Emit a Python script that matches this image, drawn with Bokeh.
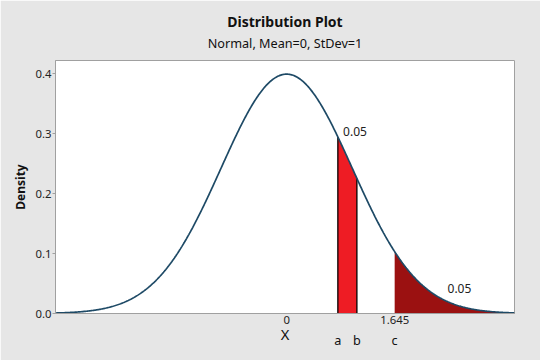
import numpy as np
from bokeh.plotting import figure
from bokeh.models import Title, Label, FixedTicker, ColumnDataSource, LinearAxis
from bokeh.embed import file_html
from bokeh.resources import INLINE

# Distribution stated in the chart subtitle
mean = 0.0
stdev = 1.0
# Marked x positions
a_val = 0.78
b_val = 1.07
c_val = 1.645
region_labels = ["a", "b", "c"]
region_x = [a_val, b_val, c_val]
area_texts = ["0.05", "0.05"]
area_x = [0.86, 2.45]
area_y = [0.303, 0.041]
y_ticks = [0.0, 0.1, 0.2, 0.3, 0.4]
x_ticks = [0.0, 1.645]


def pdf(x):
    return np.exp(-0.5 * ((x - mean) / stdev) ** 2) / (stdev * np.sqrt(2 * np.pi))


FONT = "Noto Sans"
x_lo, x_hi = -3.52, 3.47

p = figure(width=540, height=360, output_backend="svg", toolbar_location=None,
           x_range=(x_lo, x_hi), y_range=(0, 0.4217),
           min_border_left=55, min_border_right=26, min_border_top=60, min_border_bottom=47,
           background_fill_color="white", border_fill_color="#e6e6e6",
           outline_line_color="#a0a0a0")
p.grid.visible = False

xs = np.linspace(x_lo, x_hi, 600)
src = ColumnDataSource(dict(x=xs, y=pdf(xs)))

xab = np.linspace(a_val, b_val, 100)
p.varea(x=xab, y1=np.zeros_like(xab), y2=pdf(xab), fill_color="#ee1c24")
xt = np.linspace(c_val, x_hi, 200)
p.varea(x=xt, y1=np.zeros_like(xt), y2=pdf(xt), fill_color="#9b1111")
p.segment(x0=[a_val, b_val], y0=[0, 0], x1=[a_val, b_val], y1=[pdf(a_val), pdf(b_val)],
          line_color="black", line_width=1.3)
p.line("x", "y", source=src, line_color="#1e4a66", line_width=1.7)

for t, xx, yy in zip(area_texts, area_x, area_y):
    p.add_layout(Label(x=xx, y=yy, text=t, text_font=FONT, text_font_size="9pt",
                       text_color="#222222", text_baseline="middle", text_align="left"))

# axes
p.yaxis.ticker = FixedTicker(ticks=y_ticks)
p.yaxis.major_label_overrides = {v: f"{v:.1f}" for v in y_ticks}
p.yaxis.axis_label = "Density"
p.yaxis.axis_label_text_font = FONT
p.yaxis.axis_label_text_font_style = "bold"
p.yaxis.axis_label_text_font_size = "9pt"
p.yaxis.axis_label_standoff = 4
p.yaxis.minor_tick_line_color = None
p.yaxis.major_tick_out = 3
p.yaxis.major_tick_in = 0
p.yaxis.major_label_standoff = 1

p.xaxis.ticker = FixedTicker(ticks=x_ticks)
p.xaxis.major_label_overrides = {0.0: "0", 1.645: "1.645"}
p.xaxis.minor_tick_line_color = None
p.xaxis.major_tick_out = 0
p.xaxis.major_tick_in = 0
p.xaxis.major_label_standoff = 2
p.xaxis.axis_label = "X"
p.xaxis.axis_label_text_font = FONT
p.xaxis.axis_label_text_font_style = "normal"
p.xaxis.axis_label_text_font_size = "11pt"
p.xaxis.axis_label_standoff = -3

for ax in (p.xaxis, p.yaxis):
    ax.axis_line_color = "#a0a0a0"
    ax.major_tick_line_color = "#a0a0a0"
    ax.major_label_text_font = FONT
    ax.major_label_text_font_size = "8.5pt"
    ax.major_label_text_color = "#222222"
    ax.axis_label_text_color = "#111111"

abc_axis = LinearAxis(ticker=FixedTicker(ticks=region_x),
                      major_label_overrides={v: t for v, t in zip(region_x, region_labels)},
                      axis_line_color=None, major_tick_line_color=None, minor_tick_line_color=None,
                      major_label_standoff=-22, major_label_text_font=FONT,
                      major_label_text_font_size="9.5pt", major_label_text_color="#111111")
p.add_layout(abc_axis, "below")

p.add_layout(Title(text="Normal, Mean=0, StDev=1", align="center", text_font=FONT,
                   text_font_size="9.5pt", text_font_style="normal", text_color="#111111",
                   standoff=17), "above")
p.add_layout(Title(text="Distribution Plot", align="center", text_font=FONT,
                   text_font_size="10.5pt", text_font_style="bold", text_color="#111111",
                   standoff=-15), "above")
p.add_layout(Title(text=" ", align="center", text_font=FONT,
                   text_font_size="5pt", standoff=0), "above")

open("out.html", "w").write(file_html(p, INLINE))
